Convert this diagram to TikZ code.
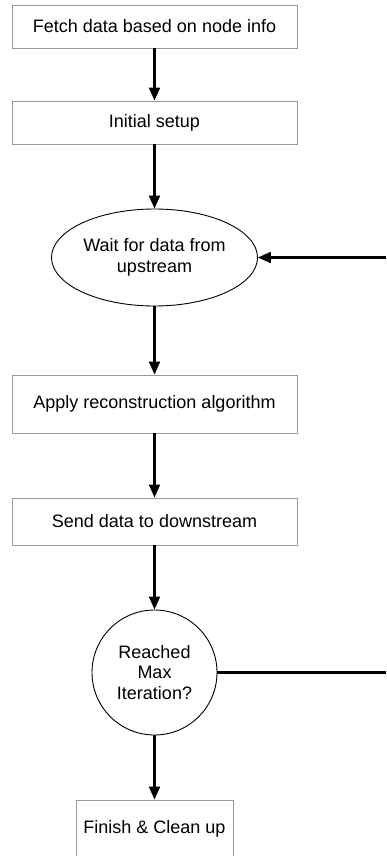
\documentclass[tikz,border=0pt]{standalone}
\usepackage{fontspec}
\setmainfont{Liberation Sans}
\usetikzlibrary{shapes.geometric,arrows.meta}
\begin{document}
\begin{tikzpicture}[x=1pt,y=-1pt,
  txt/.style={font=\fontsize{18}{20.5}\selectfont, align=center, inner sep=0pt},
  stepbox/.style={txt, draw=black!40, line width=0.9pt, minimum width=285pt, minimum height=43pt},
  waitnode/.style={txt, ellipse, draw=black, line width=0.9pt, minimum width=206pt, minimum height=97pt},
  decision/.style={txt, circle, draw=black, line width=0.9pt, minimum size=125pt},
  flow/.style={draw=black, line width=2.1pt, -{Triangle[length=13pt,width=11pt]}},
  plainline/.style={draw=black, line width=2.1pt}
]
\useasboundingbox (0,0) rectangle (386,856);
\clip (0,0) rectangle (386,856);

% process chain
\node[stepbox] (fetch) at (154.5,26.5) {Fetch data based on node info};
\node[stepbox] (setup) at (154.5,122.5) {Initial setup};
\node[waitnode] (wait) at (154.5,257.5) {Wait for data from\\upstream};
\node[stepbox, minimum height=58pt] (apply) at (154.5,404) {Apply reconstruction algorithm};
\node[stepbox, minimum height=47pt] (send) at (154.5,521.5) {Send data to downstream};
\node[decision] (check) at (154.5,672.5) {Reached\\Max\\Iteration?};
\node[stepbox, minimum width=157pt, minimum height=57pt] (finish) at (154.5,828.5) {Finish \& Clean up};

% loop ends leaving the frame on the right
\coordinate (loopin) at (386,257.5);
\coordinate (loopout) at (386,672.5);

\draw[flow] (fetch) -- (setup);
\draw[flow] (setup) -- (wait);
\draw[flow] (wait) -- (apply);
\draw[flow] (apply) -- (send);
\draw[flow] (send) -- (check);
\draw[flow] (check) -- (finish);
\draw[flow] (loopin) -- (wait.east);
\draw[plainline] (check.east) -- (loopout);
\end{tikzpicture}
\end{document}
